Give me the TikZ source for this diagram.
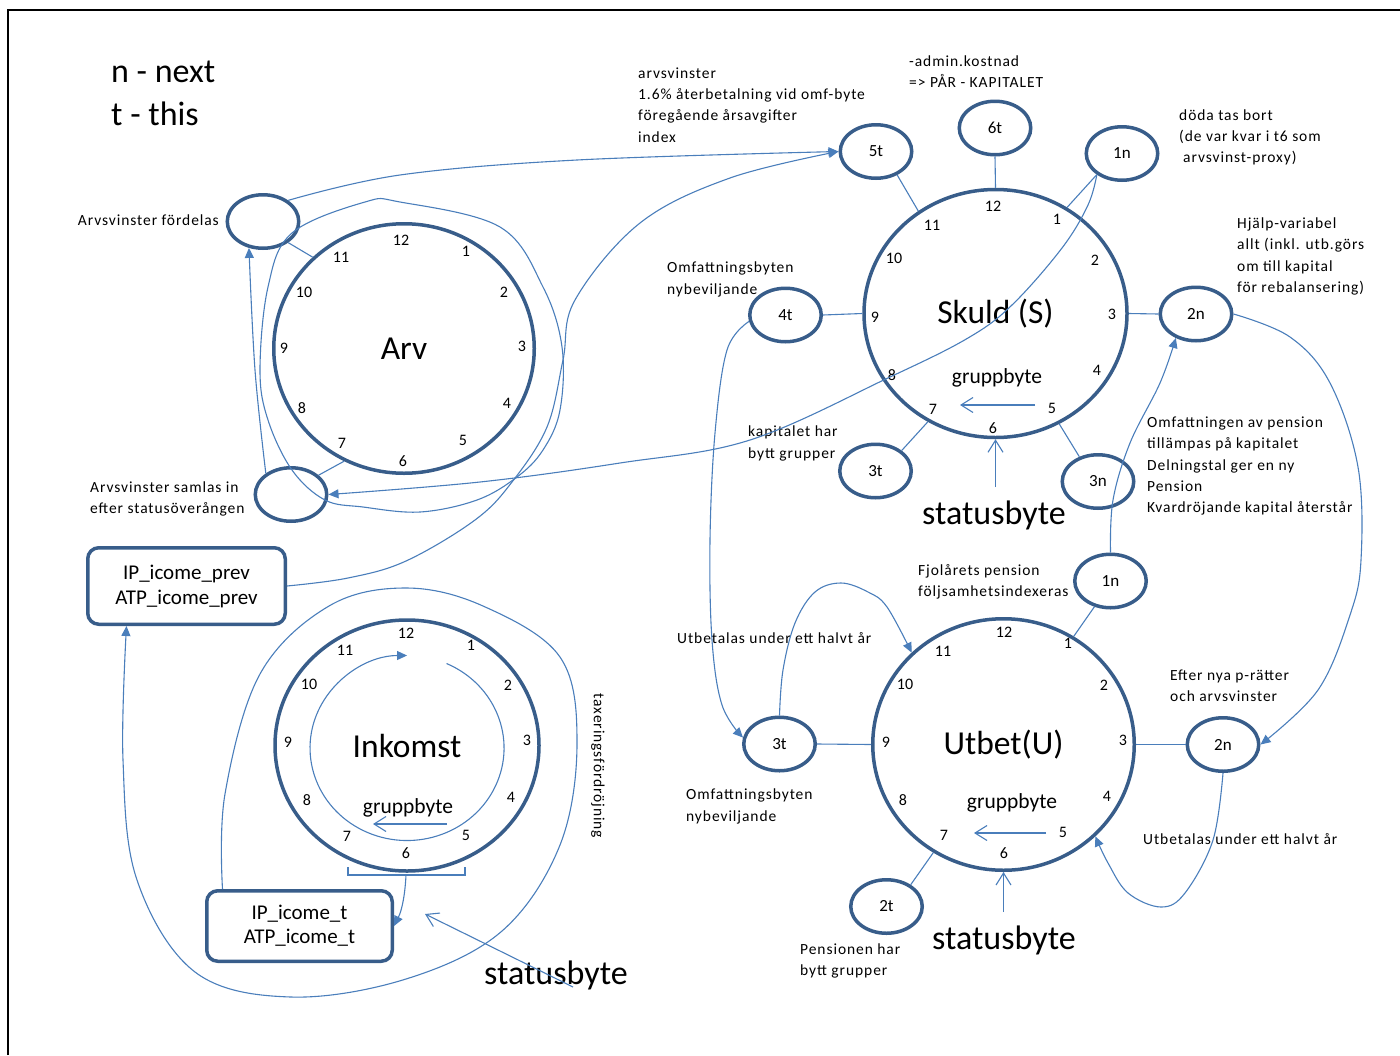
\documentclass[tikz,border=0pt]{standalone}
\usepackage{fontspec}
\setmainfont{Carlito}
\newfontfamily\labfont[LetterSpace=6]{Carlito}
\usetikzlibrary{arrows.meta,shapes.geometric,calc}
\definecolor{dkblue}{HTML}{385D8A}
\definecolor{lnblue}{HTML}{4A7EBB}
\begin{document}
\begin{tikzpicture}[x=1pt,y=-1pt,
  clock/.style={ellipse, draw=dkblue, line width=3.5pt, inner sep=0pt, font=\fontsize{33.5}{36}\selectfont},
  sat/.style={ellipse, draw=dkblue, line width=3.5pt, minimum width=71.5pt, minimum height=53.5pt, inner sep=0pt, font=\fontsize{17}{20}\selectfont},
  ipbox/.style={rectangle, rounded corners=11pt, draw=dkblue, line width=3.5pt, align=center, inner sep=0pt},
  num/.style={inner sep=0pt, font=\fontsize{16}{18}\selectfont},
  lab/.style={inner sep=0pt, align=left, font=\labfont\fontsize{15.5}{21.3}\selectfont},
  conn/.style={draw=lnblue, line width=1.1pt},
  arr/.style={conn, -{Triangle[length=10pt,width=9pt]}},
  barb/.style={conn, -{Straight Barb[length=12pt,width=15pt]}},
  big/.style={inner sep=0pt, font=\fontsize{34}{38}\selectfont},
  grp/.style={inner sep=0pt, font=\fontsize{21.5}{24}\selectfont},
]
\useasboundingbox (0,0) rectangle (1400,1055);
\draw[line width=2pt] (8.3,1055) -- (8.3,10.3) -- (1400,10.3);

% legend
\node[big, anchor=west] (legn) at (111,72) {n - next};
\node[big, anchor=west] (legt) at (111,114) {t - this};

% clocks
\node[clock, minimum width=260.5pt, minimum height=249.5pt] (arv) at (404,348.5) {Arv};
\node[clock, minimum width=263pt, minimum height=248pt] (skuld) at (995.5,313.5) {Skuld (S)};
\node[clock, minimum width=261.5pt, minimum height=251.5pt] (utbet) at (1003.5,744.5) {Utbet(U)};
\node[clock, minimum width=264pt, minimum height=251pt] (ink) at (407,745.5) {Inkomst};

% clock numbers
\foreach \n/\px/\py in {12/401/240,1/466/251,2/504/292,3/522/346,4/507/403,5/463/440,6/403/461,7/342/443,8/302/408,9/284/348,10/304/292,11/341/257}
  \node[num] (a\n) at (\px,\py) {\n};
\foreach \n/\px/\py in {12/993/206,1/1057/219,2/1095/260,3/1112/314,4/1097/370,5/1052/408,6/993/428,7/933/409,8/892/375,9/875/317,10/894/258,11/932/225}
  \node[num] (s\n) at (\px,\py) {\n};
\foreach \n/\px/\py in {12/1004/632,1/1068/643,2/1104/685,3/1123/740,4/1107/796,5/1063/832,6/1004/853,7/944/835,8/903/800,9/886/742,10/905/684,11/943/651}
  \node[num] (u\n) at (\px,\py) {\n};
\foreach \n/\px/\py in {12/406/633,1/471/645,2/508/685,3/527/740,4/511/797,5/466/835,6/406/853,7/347/836,8/307/800,9/288/742,10/309/684,11/345/650}
  \node[num] (i\n) at (\px,\py) {\n};

% gruppbyte labels
\node[grp] (gS) at (997,378) {gruppbyte};
\node[grp] (gU) at (1012,803) {gruppbyte};
\node[grp] (gI) at (408,808) {gruppbyte};

% statusbyte labels
\node[big] (sbS) at (994,515) {statusbyte};
\node[big] (sbU) at (1004,940) {statusbyte};
\node[big] (sbI) at (556,975) {statusbyte};

% satellite ellipses
\node[sat] (fordelas) at (263,221.5) {};
\node[sat] (samlas) at (291,494.5) {};
\node[sat] (s5t) at (876,151.5) {5t};
\node[sat] (s6t) at (995,128) {6t};
\node[sat] (s1n) at (1122,153.5) {1n};
\node[sat] (s2n) at (1196,314) {2n};
\node[sat] (s3n) at (1098,481.5) {3n};
\node[sat] (s3t) at (875.5,471) {3t};
\node[sat] (s4t) at (785.5,315) {4t};
\node[sat] (u1n) at (1110.5,581) {1n};
\node[sat] (u2n) at (1223,744.5) {2n};
\node[sat] (u3t) at (779.5,744) {3t};
\node[sat] (u2t) at (886.5,906.5) {2t};

% boxes
\node[ipbox, minimum width=197.5pt, minimum height=76.5pt, font=\fontsize{21}{25}\selectfont] (ipprev) at (186.5,586) {IP\_icome\_prev\\ATP\_icome\_prev};
\node[ipbox, minimum width=185.5pt, minimum height=70.5pt, font=\fontsize{21}{24}\selectfont] (ipt) at (299.5,926) {IP\_icome\_t\\ATP\_icome\_t};

% labels
\node[lab, anchor=west] (tArvsv) at (638,105) {arvsvinster\\1.6\% återbetalning vid omf-byte\\föregående årsavgifter\\index};
\node[lab, anchor=west] (tAdmin) at (909,71.5) {-admin.kostnad\\=> PÅR - KAPITALET};
\node[lab, anchor=west] (tDoda) at (1179,137.5) {döda tas bort\\(de var kvar i t6 som\\\hspace*{4pt}arvsvinst-proxy)};
\node[lab, anchor=west] (tHjalp) at (1237,256.5) {Hjälp-variabel\\allt (inkl. utb.görs\\om till kapital\\för rebalansering)};
\node[lab, anchor=west] (tOmfS) at (667,279.5) {Omfattningsbyten\\nybeviljande};
\node[lab, anchor=west] (tKap) at (748,443.5) {kapitalet har\\bytt grupper};
\node[lab, anchor=west] (tOmfP) at (1147,466) {Omfattningen av pension\\tillämpas på kapitalet\\Delningstal ger en ny\\Pension\\Kvardröjande kapital återstår};
\node[lab, anchor=west] (tFjol) at (918,582) {Fjolårets pension\\följsamhetsindexeras};
\node[lab, anchor=west] (tUtbL) at (677,638) {Utbetalas under ett halvt år};
\node[lab, anchor=west] (tEfter) at (1170,685.5) {Efter nya p-rätter\\och arvsvinster};
\node[lab, anchor=west] (tOmfU) at (686,806.5) {Omfattningsbyten\\nybeviljande};
\node[lab, anchor=west] (tUtbR) at (1143,839) {Utbetalas under ett halvt år};
\node[lab, anchor=west] (tPens) at (800,961) {Pensionen har\\bytt grupper};
\node[lab, anchor=east] (tFord) at (219,220) {Arvsvinster fördelas};
\node[lab, anchor=west] (tSaml) at (90,499) {Arvsvinster samlas in\\efter statusöverången};
\node[lab, rotate=-90] (tTax) at (598,766) {taxeringsfördröjning};

% short connectors
\draw[conn] (fordelas.-40) -- (arv.135);
\draw[conn] (samlas.35) -- (arv.-118);
\draw[conn] (s5t.-48) -- (skuld.127);
\draw[conn] (s6t.south) -- (skuld.north);
\draw[conn] (s1n.-140) -- (skuld.56);
\draw[conn] (skuld.east) -- (s2n.west);
\draw[conn] (skuld.-60) -- (s3n.127);
\draw[conn] (s3t.38) -- (skuld.-122);
\draw[conn] (s4t.east) -- (skuld.west);
\draw[conn] (u1n.-122) -- (utbet.57);
\draw[conn] (utbet.east) -- (u2n.west);
\draw[conn] (u3t.east) -- (utbet.west);
\draw[conn] (u2t.42) -- (utbet.-123);

% long curves
\draw[arr] plot[smooth, tension=0.6] coordinates {(fordelas.40) (400,175) (577,160) (s5t.west)};
\draw[arr] plot[smooth, tension=0.6] coordinates {(ipprev.east) (348,578) (406,561) (475,520) (512,482) (547,427) (563,360) (575,300) (640,223) (730,178) (s5t.west)};
\draw[conn] plot[smooth cycle, tension=0.6] coordinates {(365,202) (400,202) (500,227) (543,287) (562,347) (560,410) (543,450) (517,477) (477,500) (420,512) (363,507) (325,500) (292,470) (268,420) (260,370) (268,287) (292,233)};
\draw[arr] plot[smooth, tension=0.6] coordinates {(s1n.-140) (1088,205) (1062,248) (1012,305) (968,338) (890,377) (750,440) (620,463) (480,482) (samlas.east)};
\draw[arr] plot[smooth, tension=0.6] coordinates {(samlas.140) (255,370) (fordelas.-118)};
\draw[arr] plot[smooth, tension=0.6] coordinates {(s4t.-170) (727,350) (715,433) (710,540) (712,640) (722,705) (u3t.170)};
\draw[arr] plot[smooth, tension=0.6] coordinates {(u3t.north) (783,670) (795,623) (815,592) (841,583) (868,592) (887,607) (utbet.135)};
\draw[arr] plot[smooth, tension=0.6] coordinates {(s2n.east) (1290,337) (1330,383) (1358,467) (1361,560) (1350,615) (1318,690) (u2n.east)};
\draw[arr] plot[smooth, tension=0.6] coordinates {(u2n.south) (1213,840) (1185,893) (1161,907) (1128,893) (1108,863) (utbet.-45)};
\draw[arr] plot[smooth, tension=0.6] coordinates {(u1n.north) (1113,500) (1130,443) (1160,383) (s2n.-130)};

% Inkomst
\draw[arr] (446.5,663.5) arc[start angle=-66, end angle=270, x radius=97, y radius=92.5];
\draw[conn] (348,867) -- (348,875) -- (465,875) -- (465,867);
\coordinate (brk) at (406,875);
\draw[arr] (brk) .. controls (405,895) and (402,910) .. (ipt.east);
\coordinate (iptTop) at ($(ipt.north)+(-77,0)$);
\coordinate (ipprevBot) at ($(ipprev.south)+(-60,0)$);
\draw[arr] plot[smooth, tension=0.6] coordinates {(iptTop) (225,794) (260,674) (329,606) (406,588) (483,606) (560,657) (577,743) (560,845) (502,931) (406,979) (291,997) (195,972) (137,880) (123,760) (ipprevBot)};

% statusbyte / gruppbyte arrows
\coordinate (sbSa) at (995.5,487);
\draw[barb] (sbSa) -- (skuld.south);
\coordinate (sbUa) at (1003.5,912);
\draw[barb] (sbUa) -- (utbet.south);
\coordinate (sbIa) at (573,987);
\coordinate (sbIb) at (425,914);
\draw[barb] (sbIa) -- (sbIb);
\coordinate (gSa) at (1035,405);
\coordinate (gSb) at (960,405);
\draw[barb] (gSa) -- (gSb);
\coordinate (gUa) at (1046,833);
\coordinate (gUb) at (974,833);
\draw[barb] (gUa) -- (gUb);
\coordinate (gIa) at (447,824);
\coordinate (gIb) at (373,824);
\draw[barb] (gIa) -- (gIb);
\end{tikzpicture}
\end{document}
